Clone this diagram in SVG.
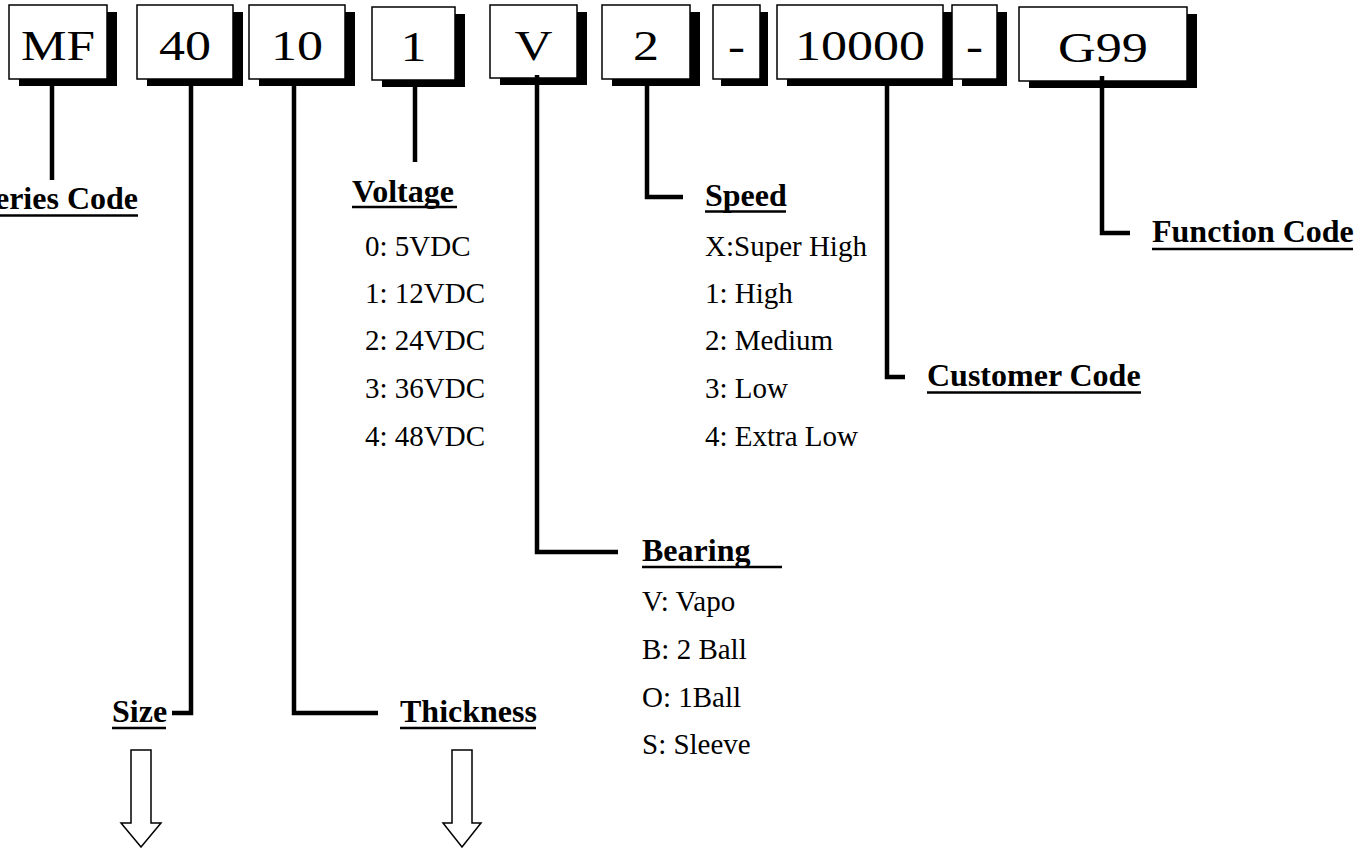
<svg xmlns="http://www.w3.org/2000/svg" width="1371" height="848" viewBox="0 0 1371 848">
<style>
.shadow{fill:#000}
.box{fill:#fff;stroke:#000;stroke-width:1.5}
.code{font-family:"Liberation Serif","Times New Roman",serif;font-size:42px;fill:#000;text-anchor:middle}
.head{font-family:"Liberation Serif","Times New Roman",serif;font-size:32px;font-weight:bold;fill:#000}
.item{font-family:"Liberation Serif","Times New Roman",serif;font-size:29px;fill:#000}
.ul{stroke:#000;stroke-width:2.5}
.conn{fill:none;stroke:#000;stroke-width:4.5;stroke-linejoin:miter;stroke-linecap:butt}
.arrow{fill:#fff;stroke:#000;stroke-width:1.5;stroke-linejoin:miter}
</style>
<rect width="1371" height="848" fill="#fff"/>

<g id="box-MF">
<rect class="shadow" x="19" y="12" width="98" height="74"/>
<rect class="box" x="9" y="5" width="98" height="74"/>
<text class="code" x="58" y="60" textLength="74" lengthAdjust="spacingAndGlyphs">MF</text>
</g>
<g id="box-40">
<rect class="shadow" x="147" y="12" width="96" height="74"/>
<rect class="box" x="137" y="5" width="96" height="74"/>
<text class="code" x="185" y="60" textLength="52" lengthAdjust="spacingAndGlyphs">40</text>
</g>
<g id="box-10">
<rect class="shadow" x="259" y="12" width="96" height="74"/>
<rect class="box" x="249" y="5" width="96" height="74"/>
<text class="code" x="297" y="60" textLength="52" lengthAdjust="spacingAndGlyphs">10</text>
</g>
<g id="box-1">
<rect class="shadow" x="382" y="14" width="83" height="73"/>
<rect class="box" x="372" y="7" width="83" height="73"/>
<text class="code" x="413.5" y="61" textLength="26" lengthAdjust="spacingAndGlyphs">1</text>
</g>
<g id="box-V">
<rect class="shadow" x="500" y="12" width="87" height="73"/>
<rect class="box" x="490" y="5" width="87" height="73"/>
<text class="code" x="533.5" y="60" textLength="38" lengthAdjust="spacingAndGlyphs">V</text>
</g>
<g id="box-2">
<rect class="shadow" x="612" y="12" width="88" height="74"/>
<rect class="box" x="602" y="5" width="88" height="74"/>
<text class="code" x="646" y="60" textLength="26" lengthAdjust="spacingAndGlyphs">2</text>
</g>
<g id="box-dash1">
<rect class="shadow" x="721" y="12" width="47" height="74"/>
<rect class="box" x="713" y="5" width="47" height="74"/>
<text class="code" x="736.5" y="60" textLength="17" lengthAdjust="spacingAndGlyphs">-</text>
</g>
<g id="box-10000">
<rect class="shadow" x="787" y="12" width="166" height="74"/>
<rect class="box" x="777" y="5" width="166" height="74"/>
<text class="code" x="860" y="60" textLength="130" lengthAdjust="spacingAndGlyphs">10000</text>
</g>
<g id="box-dash2">
<rect class="shadow" x="962" y="12" width="45" height="74"/>
<rect class="box" x="952" y="5" width="45" height="74"/>
<text class="code" x="974.5" y="60" textLength="17" lengthAdjust="spacingAndGlyphs">-</text>
</g>
<g id="box-G99">
<rect class="shadow" x="1029" y="14" width="168" height="74"/>
<rect class="box" x="1019" y="7" width="168" height="74"/>
<text class="code" x="1103" y="62" textLength="90" lengthAdjust="spacingAndGlyphs">G99</text>
</g>

<g id="connectors">
<path class="conn" d="M52,85 V180"/>
<path class="conn" d="M191,85 V713 H172"/>
<path class="conn" d="M294,85 V713 H378"/>
<path class="conn" d="M415,86 V162"/>
<path class="conn" d="M537,75 V552 H618"/>
<path class="conn" d="M647,85 V197 H683"/>
<path class="conn" d="M887,85 V377 H905"/>
<path class="conn" d="M1102,76 V233 H1130"/>
</g>

<g id="label-series">
<text class="head" x="138" y="209" text-anchor="end">Series Code</text>
<line class="ul" x1="0" y1="215.5" x2="138" y2="215.5"/>
</g>

<g id="label-voltage">
<text class="head" x="352" y="202">Voltage</text>
<line class="ul" x1="352" y1="207" x2="457" y2="207"/>
<text class="item" x="365" y="256">0: 5VDC</text>
<text class="item" x="365" y="303">1: 12VDC</text>
<text class="item" x="365" y="350">2: 24VDC</text>
<text class="item" x="365" y="398">3: 36VDC</text>
<text class="item" x="365" y="446">4: 48VDC</text>
</g>

<g id="label-speed">
<text class="head" x="705" y="206">Speed</text>
<line class="ul" x1="705" y1="211.5" x2="786" y2="211.5"/>
<text class="item" x="705" y="256">X:Super High</text>
<text class="item" x="705" y="303">1: High</text>
<text class="item" x="705" y="350">2: Medium</text>
<text class="item" x="705" y="398">3: Low</text>
<text class="item" x="705" y="446">4: Extra Low</text>
</g>

<g id="label-function">
<text class="head" x="1152" y="242">Function Code</text>
<line class="ul" x1="1152" y1="249" x2="1353" y2="249"/>
</g>

<g id="label-customer">
<text class="head" x="927" y="386">Customer Code</text>
<line class="ul" x1="927" y1="392.5" x2="1141" y2="392.5"/>
</g>

<g id="label-bearing">
<text class="head" x="642" y="561">Bearing</text>
<line class="ul" x1="642" y1="567" x2="782" y2="567"/>
<text class="item" x="642" y="611">V: Vapo</text>
<text class="item" x="642" y="659">B: 2 Ball</text>
<text class="item" x="642" y="707">O: 1Ball</text>
<text class="item" x="642" y="754">S: Sleeve</text>
</g>

<g id="label-size">
<text class="head" x="112" y="722">Size</text>
<line class="ul" x1="112" y1="728" x2="166" y2="728"/>
</g>

<g id="label-thickness">
<text class="head" x="400" y="722">Thickness</text>
<line class="ul" x1="400" y1="728" x2="536" y2="728"/>
</g>

<g id="arrow-size">
<polygon class="arrow" points="131,750 151,750 151,823 161,823 141,847 121,823 131,823"/>
</g>
<g id="arrow-thickness">
<polygon class="arrow" points="452,750 472,750 472,823 481,823 462,847 443,823 452,823"/>
</g>
</svg>
